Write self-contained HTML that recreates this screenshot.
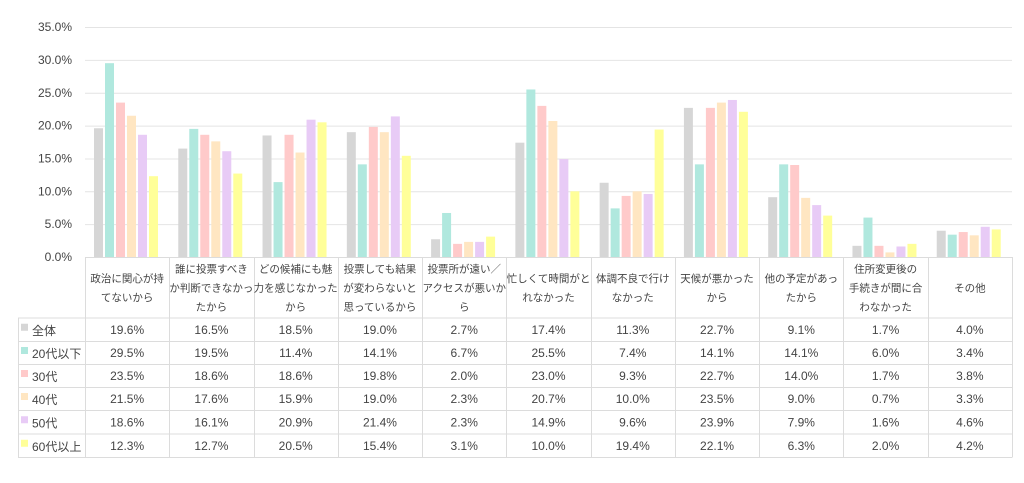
<!DOCTYPE html>
<html><head><meta charset="utf-8"><style>
body{margin:0;background:#fff;width:1024px;height:478px;overflow:hidden}
text{font-family:"Liberation Sans","Noto Sans CJK JP",sans-serif;fill:#444}
</style></head><body>
<svg width="1024" height="478" xmlns="http://www.w3.org/2000/svg" id="s">
<g id="grid" stroke="#e4e4e4" stroke-width="1"></g>
<g id="ylab" font-size="12" text-anchor="end"></g>
<g id="bars"></g>
<g id="tbl" stroke="#dcdcdc" stroke-width="1" fill="none"></g>
<g id="ttxt" font-size="12" text-anchor="middle"></g>
</svg>
<script>
const ns="http://www.w3.org/2000/svg";
function el(p,t,a,txt){const e=document.createElementNS(ns,t);for(const k in a)e.setAttribute(k,a[k]);if(txt!=null)e.textContent=txt;document.getElementById(p).appendChild(e);return e;}
const y0=257,py=6.57;
for(let i=0;i<=7;i++){const y=y0-i*5*py;el('grid','line',{x1:85,x2:1012,y1:y+0.5,y2:y+0.5});el('ylab','text',{x:72,y:y+4},(i*5).toFixed(1)+'%');}
const cats=[["政治に関心が持","てないから"],["誰に投票すべき","か判断できなかっ","たから"],["どの候補にも魅","力を感じなかった","から"],["投票しても結果","が変わらないと","思っているから"],["投票所が遠い／","アクセスが悪いか","ら"],["忙しくて時間がと","れなかった"],["体調不良で行け","なかった"],["天候が悪かった","から"],["他の予定があっ","たから"],["住所変更後の","手続きが間に合","わなかった"],["その他"]];
const series=[["全体","#d6d6d6",[19.6,16.5,18.5,19.0,2.7,17.4,11.3,22.7,9.1,1.7,4.0]],
["20代以下","#b0e8de",[29.5,19.5,11.4,14.1,6.7,25.5,7.4,14.1,14.1,6.0,3.4]],
["30代","#ffcaca",[23.5,18.6,18.6,19.8,2.0,23.0,9.3,22.7,14.0,1.7,3.8]],
["40代","#ffe6c2",[21.5,17.6,15.9,19.0,2.3,20.7,10.0,23.5,9.0,0.7,3.3]],
["50代","#e8cbf6",[18.6,16.1,20.9,21.4,2.3,14.9,9.6,23.9,7.9,1.6,4.6]],
["60代以上","#ffff99",[12.3,12.7,20.5,15.4,3.1,10.0,19.4,22.1,6.3,2.0,4.2]]];
const x0=85,cw=(1012-85)/11;
for(let c=0;c<11;c++)for(let s=0;s<6;s++){const v=series[s][2][c];const h=v*py;el('bars','rect',{x:x0+c*cw+9+s*11,y:y0-h,width:9,height:h,fill:series[s][1]});}
const rows=[257,318,341.5,364.5,387.5,410.5,434,457.5];
el('tbl','line',{x1:85,x2:1012,y1:257.5,y2:257.5});
for(let i=1;i<rows.length;i++)el('tbl','line',{x1:18,x2:1012,y1:rows[i],y2:rows[i]});
el('tbl','line',{x1:18.5,x2:18.5,y1:318,y2:457.5});
for(let c=0;c<=11;c++){const x=Math.round(x0+c*cw)+0.5;el('tbl','line',{x1:x,x2:x,y1:257,y2:457.5});}
for(let c=0;c<11;c++){const L=cats[c];const cx=x0+c*cw+cw/2;const lh=19;const st=287.5-(L.length-1)*lh/2+4;L.forEach((t,i)=>el('ttxt','text',{x:cx,y:st+i*lh,'font-size':10.5},t));
for(let s=0;s<6;s++){const ry=(rows[s+1]+rows[s+2])/2+4;el('ttxt','text',{x:cx,y:ry},series[s][2][c].toFixed(1)+'%');}}
for(let s=0;s<6;s++){const ry=(rows[s+1]+rows[s+2])/2;el('tbl','rect',{x:21,y:ry-6,width:7,height:7,fill:series[s][1],stroke:'none'});el('ttxt','text',{x:32,y:ry+5,'text-anchor':'start'},series[s][0]);}
</script>
</body></html>
